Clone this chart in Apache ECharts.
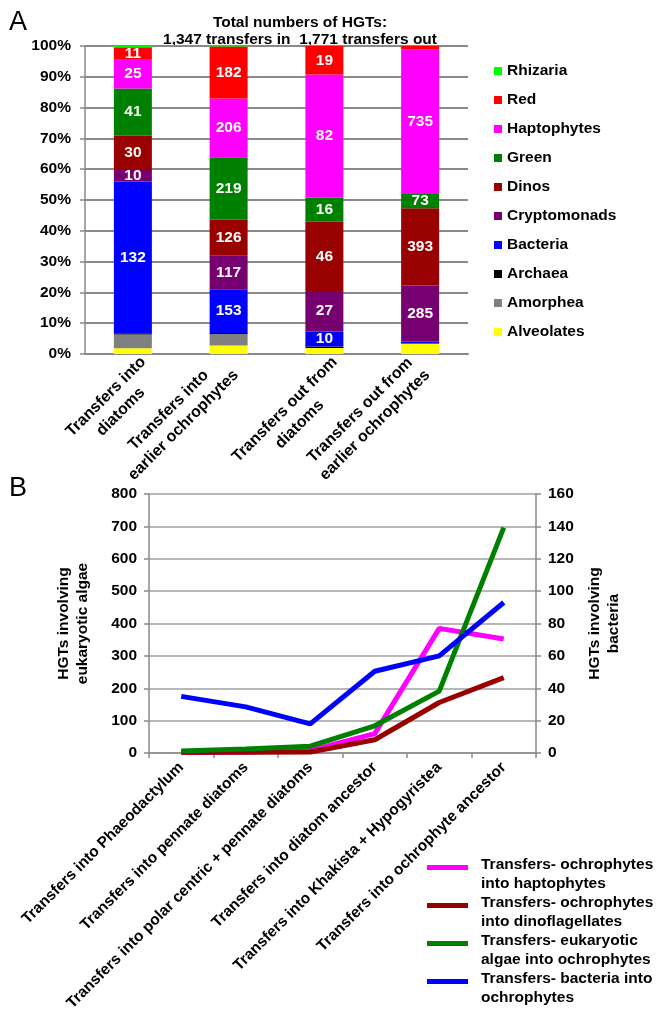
<!DOCTYPE html>
<html><head><meta charset="utf-8">
<script src="https://cdn.jsdelivr.net/npm/echarts@6/dist/echarts.min.js"></script>
<style>html,body{margin:0;padding:0;background:#fff}#c{width:657px;height:1015px}</style>
</head><body><div id="c"></div>
<script>
// ---------- Panel A data (counts; stacked bottom -> top) ----------
const catsA = ['Transfers into\ndiatoms', 'Transfers into\nearlier ochrophytes', 'Transfers out from\ndiatoms', 'Transfers out from\nearlier ochrophytes'];
const alveolates   = [5, 30, 4, 52];
const amorphea     = [12, 40, 0, 0];
const archaea      = [1, 4, 1, 2];
const bacteria     = [132, 153, 10, 9];
const cryptomonads = [10, 117, 27, 285];
const dinos        = [30, 126, 46, 393];
const green        = [41, 219, 16, 73];
const haptophytes  = [25, 206, 82, 735];
const red          = [11, 182, 19, 17];
const rhizaria     = [1, 2, 0, 0];
const titleA = 'Total numbers of HGTs:\n1,347 transfers in  1,771 transfers out';

// ---------- Panel B data ----------
const catsB = ['Transfers into Phaeodactylum', 'Transfers into pennate diatoms', 'Transfers into polar centric + pennate diatoms', 'Transfers into diatom ancestor', 'Transfers into Khakista + Hypogyristea', 'Transfers into ochrophyte ancestor'];
const ochroIntoHapto = [1, 3, 8, 60, 385, 352];
const ochroIntoDino  = [2, 2, 3, 41, 156, 233];
const eukIntoOchro   = [6, 12, 21, 84, 191, 696];
const bactIntoOchro  = [35, 28.5, 18, 50.5, 60, 93];

const FONT = "'Liberation Sans', Arial, sans-serif";
const seriesA = [
  {name: 'Alveolates', data: alveolates, color: '#FFFF00', lab: false},
  {name: 'Amorphea', data: amorphea, color: '#808080', lab: false},
  {name: 'Archaea', data: archaea, color: '#000000', lab: false},
  {name: 'Bacteria', data: bacteria, color: '#0000FF', lab: true},
  {name: 'Cryptomonads', data: cryptomonads, color: '#770070', lab: true},
  {name: 'Dinos', data: dinos, color: '#990000', lab: true},
  {name: 'Green', data: green, color: '#008000', lab: true},
  {name: 'Haptophytes', data: haptophytes, color: '#FF00FF', lab: true},
  {name: 'Red', data: red, color: '#FF0000', lab: true},
  {name: 'Rhizaria', data: rhizaria, color: '#00FF00', lab: false}
];
const totals = catsA.map((c, i) => seriesA.reduce((s, d) => s + d.data[i], 0));

const labelStyleA = {fontFamily: FONT, fontWeight: 'bold', fontSize: 16, color: '#000', lineHeight: 21};
const labelWidthsA = [83, 149, 119, 149];
const richA = {};
labelWidthsA.forEach((w, i) => { richA['w' + i] = Object.assign({width: w, align: 'center'}, labelStyleA); });
richA.sp = {height: 28, fontSize: 2};

const chart = echarts.init(document.getElementById('c'), null, {renderer: 'canvas'});
const boldLbl = {fontFamily: FONT, fontWeight: 'bold', fontSize: 15.5, color: '#000'};

const option = {
  animation: false,
  backgroundColor: '#fff',
  textStyle: {fontFamily: FONT},
  graphic: [
    {type: 'text', x: 9, y: 9, style: {text: 'A', fontFamily: FONT, fontSize: 27, fill: '#000', align: 'left', verticalAlign: 'top'}},
    {type: 'text', x: 9, y: 475, style: {text: 'B', fontFamily: FONT, fontSize: 27, fill: '#000', align: 'left', verticalAlign: 'top'}},
    {type: 'text', x: 300, y: 14, style: {text: titleA, fontFamily: FONT, fontWeight: 'bold', fontSize: 15.5, lineHeight: 17, fill: '#000', align: 'center', verticalAlign: 'top'}}
  ],
  legend: [
    {
      orient: 'vertical', left: 494, top: 63, padding: 0, itemWidth: 8, itemHeight: 8, itemGap: 13, icon: 'rect',
      data: seriesA.slice().reverse().map(s => s.name),
      textStyle: Object.assign({lineHeight: 16}, boldLbl)
    },
    {
      orient: 'vertical', left: 427, top: 855, padding: 0, itemWidth: 49, itemHeight: 38, itemGap: 0,
      icon: 'path://M0,10H41V15H0Z M0,0 M49,38',
      data: ['Transfers- ochrophytes\ninto haptophytes', 'Transfers- ochrophytes\ninto dinoflagellates', 'Transfers- eukaryotic\nalgae into ochrophytes', 'Transfers- bacteria into\nochrophytes'],
      textStyle: Object.assign({lineHeight: 19}, boldLbl)
    }
  ],
  grid: [
    {left: 85, right: 189, top: 46, bottom: 661},
    {left: 149, right: 121, top: 494, bottom: 262}
  ],
  xAxis: [
    {
      type: 'category', gridIndex: 0, data: catsA,
      axisLine: {lineStyle: {color: '#8a8a8a', width: 2}},
      axisTick: {show: false},
      axisLabel: {
        interval: 0, rotate: 45, margin: 11, verticalAlign: 'middle', align: 'right',
        formatter: (v, i) => {
          const parts = v.split('\n');
          const body = parts.map(p => '{w' + i + '|' + p + '}').join('\n');
          return (i === 0 || i === 2) ? '{sp| }\n' + body : body;
        },
        rich: richA
      }
    },
    {
      type: 'category', gridIndex: 1, data: catsB, boundaryGap: true,
      axisLine: {lineStyle: {color: '#8a8a8a', width: 1.5}},
      axisTick: {show: true, length: 5, lineStyle: {color: '#8a8a8a', width: 1.5}},
      axisLabel: Object.assign({interval: 0, rotate: 45, margin: 12}, boldLbl)
    }
  ],
  yAxis: [
    {
      type: 'value', gridIndex: 0, min: 0, max: 1, interval: 0.1,
      axisLine: {show: true, lineStyle: {color: '#8a8a8a', width: 1.5}},
      axisTick: {show: true, length: 5, lineStyle: {color: '#8a8a8a', width: 1.5}},
      splitLine: {lineStyle: {color: '#8a8a8a', width: 2}},
      axisLabel: Object.assign({margin: 14, formatter: v => Math.round(v * 100) + '%'}, boldLbl)
    },
    {
      type: 'value', gridIndex: 1, min: 0, max: 800, interval: 100, position: 'left',
      name: 'HGTs involving\neukaryotic algae', nameLocation: 'middle', nameGap: 57,
      nameTextStyle: Object.assign({lineHeight: 19}, boldLbl),
      axisLine: {show: true, lineStyle: {color: '#8a8a8a', width: 1.5}},
      axisTick: {show: true, length: 5, lineStyle: {color: '#8a8a8a', width: 1.5}},
      splitLine: {lineStyle: {color: '#a0a0a0', width: 1.5}},
      axisLabel: Object.assign({margin: 12}, boldLbl)
    },
    {
      type: 'value', gridIndex: 1, min: 0, max: 160, interval: 20, position: 'right',
      name: 'HGTs involving\nbacteria', nameLocation: 'middle', nameGap: 42,
      nameTextStyle: Object.assign({lineHeight: 19}, boldLbl),
      axisLine: {show: true, lineStyle: {color: '#8a8a8a', width: 1.5}},
      axisTick: {show: true, length: 5, lineStyle: {color: '#8a8a8a', width: 1.5}},
      splitLine: {show: false},
      axisLabel: Object.assign({margin: 12}, boldLbl)
    }
  ],
  series: [
    ...seriesA.map(s => ({
      type: 'bar', name: s.name, stack: 'a', xAxisIndex: 0, yAxisIndex: 0, barWidth: 38,
      itemStyle: {color: s.color},
      data: s.data.map((v, i) => v / totals[i]),
      label: {
        show: s.lab, position: 'inside', color: '#fff', fontFamily: FONT, fontWeight: 'bold', fontSize: 15.5,
        formatter: p => (p.value > 0.025 ? String(s.data[p.dataIndex]) : '')
      }
    })),
    {type: 'line', name: 'Transfers- ochrophytes\ninto haptophytes', xAxisIndex: 1, yAxisIndex: 1, data: ochroIntoHapto, symbol: 'none', lineStyle: {width: 5, color: '#FF00FF'}, itemStyle: {color: '#FF00FF'}},
    {type: 'line', name: 'Transfers- ochrophytes\ninto dinoflagellates', xAxisIndex: 1, yAxisIndex: 1, data: ochroIntoDino, symbol: 'none', lineStyle: {width: 5, color: '#990000'}, itemStyle: {color: '#990000'}},
    {type: 'line', name: 'Transfers- eukaryotic\nalgae into ochrophytes', xAxisIndex: 1, yAxisIndex: 1, data: eukIntoOchro, symbol: 'none', lineStyle: {width: 5, color: '#008000'}, itemStyle: {color: '#008000'}},
    {type: 'line', name: 'Transfers- bacteria into\nochrophytes', xAxisIndex: 1, yAxisIndex: 2, data: bactIntoOchro, symbol: 'none', lineStyle: {width: 5, color: '#0000FF'}, itemStyle: {color: '#0000FF'}}
  ]
};
chart.setOption(option);
</script>
</body></html>
